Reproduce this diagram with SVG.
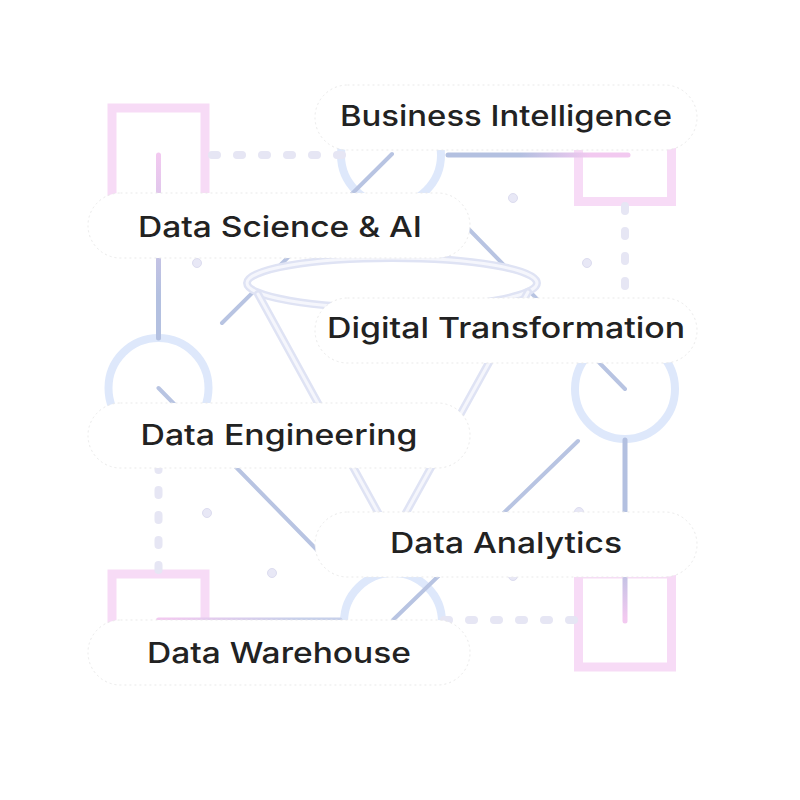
<svg xmlns="http://www.w3.org/2000/svg" width="800" height="800" viewBox="0 0 800 800">
<style>
.sq{fill:none;stroke:#f7dbf6;stroke-width:9}
.clk{fill:none;stroke:#dee8fb;stroke-width:8}
.dot{stroke:#e6e6f4;stroke-width:8;stroke-linecap:round;stroke-dasharray:5 20;fill:none}
.diag{stroke:#b8c4e2;stroke-width:4;stroke-linecap:round;fill:none}
.gl{stroke-width:5;stroke-linecap:round;fill:none}
.pt{fill:#e8e8f6;stroke:#dcdcef;stroke-width:1}
.pill{fill:#ffffff;stroke:#e9e9e9;stroke-width:1;stroke-dasharray:2 3}
.lbl{font-family:Inter,"Liberation Sans",sans-serif;font-size:29px;font-weight:500;fill:#222222;text-anchor:middle}
.fo{fill:none;stroke:#dfe3f4;stroke-width:8;stroke-linecap:round}
.fi{fill:none;stroke:#f5f6fc;stroke-width:3;stroke-linecap:round}
</style>
<defs>
<linearGradient id="gV1" gradientUnits="userSpaceOnUse" x1="0" y1="155" x2="0" y2="295"><stop offset="0" stop-color="#f2c9f0"/><stop offset="1" stop-color="#b3c0e0"/></linearGradient>
<linearGradient id="gH1" gradientUnits="userSpaceOnUse" x1="520" y1="0" x2="590" y2="0"><stop offset="0" stop-color="#b3c0e0"/><stop offset="1" stop-color="#f2c9f0"/></linearGradient>
<linearGradient id="gV2" gradientUnits="userSpaceOnUse" x1="0" y1="560" x2="0" y2="618"><stop offset="0" stop-color="#b3c0e0"/><stop offset="1" stop-color="#f2c9f0"/></linearGradient>
<linearGradient id="gH2" gradientUnits="userSpaceOnUse" x1="165" y1="0" x2="300" y2="0"><stop offset="0" stop-color="#f2c9f0"/><stop offset="1" stop-color="#c7d0ea"/></linearGradient>
</defs>
<rect width="800" height="800" fill="#ffffff"/>
<g id="background">
<rect class="sq" x="112" y="108" width="93" height="93"/>
<rect class="sq" x="578.5" y="108.5" width="93" height="93"/>
<rect class="sq" x="578.5" y="574" width="93" height="93"/>
<rect class="sq" x="112" y="574" width="93" height="93"/>
<circle class="clk" cx="158.5" cy="388" r="50"/>
<circle class="clk" cx="391" cy="155" r="50"/>
<circle class="clk" cx="625" cy="389" r="50"/>
<circle class="clk" cx="393" cy="622" r="49"/>
<circle class="pt" cx="197" cy="263" r="4.5"/>
<circle class="pt" cx="513" cy="198" r="4.5"/>
<circle class="pt" cx="587" cy="263" r="4.5"/>
<circle class="pt" cx="579" cy="512" r="4.5"/>
<circle class="pt" cx="513" cy="576" r="4.5"/>
<circle class="pt" cx="272" cy="573" r="4.5"/>
<circle class="pt" cx="207" cy="513" r="4.5"/>
</g>
<g id="connectors">
<line class="gl" x1="158.5" y1="155" x2="158.5" y2="338" stroke="url(#gV1)"/>
<line class="gl" x1="448" y1="155" x2="628" y2="155" stroke="url(#gH1)"/>
<line class="gl" x1="625" y1="440" x2="625" y2="621" stroke="url(#gV2)"/>
<line class="gl" x1="158.5" y1="620" x2="340" y2="620" stroke="url(#gH2)"/>
<line class="dot" x1="212" y1="155" x2="342" y2="155"/>
<line class="dot" x1="625" y1="206" x2="625" y2="338"/>
<line class="dot" x1="444" y1="620" x2="575" y2="620"/>
<line class="dot" x1="158.5" y1="440" x2="158.5" y2="572"/>
<line class="diag" x1="392" y1="154" x2="222" y2="323"/>
<line class="diag" x1="455" y1="215" x2="625" y2="389"/>
<line class="diag" x1="578" y1="441" x2="393" y2="620"/>
<line class="diag" x1="158.5" y1="388" x2="318" y2="551"/>
</g>
<g id="funnel">
<ellipse cx="392" cy="283" rx="145" ry="25" fill="#ffffff" stroke="#dfe3f4" stroke-width="8"/>
<ellipse cx="392" cy="283" rx="145" ry="25" fill="none" stroke="#f5f6fc" stroke-width="3"/>
<path class="fo" d="M258 294 L392 538 L528 292"/>
<path class="fi" d="M258 294 L392 538 L528 292"/>
</g>
<g id="node-bi">
<rect class="pill" x="315" y="85" width="382" height="65" rx="32.5"/>
<text class="lbl" x="506" y="126" textLength="332" lengthAdjust="spacingAndGlyphs">Business Intelligence</text>
</g>
<g id="node-ds">
<rect class="pill" x="88" y="193" width="382" height="65" rx="32.5"/>
<text class="lbl" x="280" y="237" textLength="284" lengthAdjust="spacingAndGlyphs">Data Science &amp; AI</text>
</g>
<g id="node-dt">
<rect class="pill" x="315" y="298" width="382" height="65" rx="32.5"/>
<text class="lbl" x="506" y="338" textLength="358" lengthAdjust="spacingAndGlyphs">Digital Transformation</text>
</g>
<g id="node-de">
<rect class="pill" x="88" y="403" width="382" height="65" rx="32.5"/>
<text class="lbl" x="279" y="445" textLength="277" lengthAdjust="spacingAndGlyphs">Data Engineering</text>
</g>
<g id="node-da">
<rect class="pill" x="315" y="512" width="382" height="65" rx="32.5"/>
<text class="lbl" x="506" y="553" textLength="232" lengthAdjust="spacingAndGlyphs">Data Analytics</text>
</g>
<g id="node-dw">
<rect class="pill" x="88" y="620" width="382" height="65" rx="32.5"/>
<text class="lbl" x="279" y="663" textLength="264" lengthAdjust="spacingAndGlyphs">Data Warehouse</text>
</g>
</svg>
